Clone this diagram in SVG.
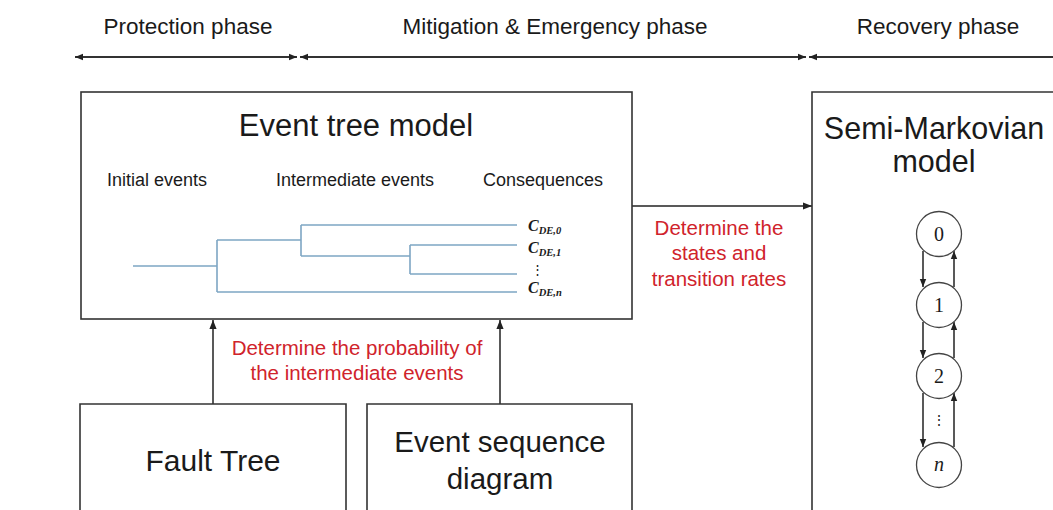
<svg xmlns="http://www.w3.org/2000/svg" width="1053" height="510" viewBox="0 0 1053 510">
<defs>
<marker id="ah" viewBox="0 0 10 10" refX="10" refY="5" markerWidth="9" markerHeight="9" markerUnits="userSpaceOnUse" orient="auto-start-reverse">
<path d="M0,1 L10,5 L0,9 z" fill="#222"/>
</marker>
<marker id="ahs" viewBox="0 0 10 10" refX="10" refY="5" markerWidth="8" markerHeight="8" markerUnits="userSpaceOnUse" orient="auto-start-reverse">
<path d="M0,1 L10,5 L0,9 z" fill="#222"/>
</marker>
</defs>
<style>
.box{fill:#fff;stroke:#333;stroke-width:1.6}
.t{font-family:"Liberation Sans",Arial,sans-serif;fill:#1a1a1a;text-anchor:middle}
.red{font-family:"Liberation Sans",Arial,sans-serif;fill:#d0232b;text-anchor:middle;font-size:20.5px}
.conn{stroke:#222;stroke-width:1.5;fill:none}
.phase{stroke:#333;stroke-width:2;fill:none}
.tree{stroke:#7ea6c4;stroke-width:1.6;fill:none}
.math{font-family:"Liberation Serif","Times New Roman",serif;fill:#1a1a1a}
.circ{fill:#fff;stroke:#444;stroke-width:1.3}
</style>
<rect width="1053" height="510" fill="#fff"/>

<g id="phases">
<text class="t" x="188" y="34" font-size="22.5">Protection phase</text>
<text class="t" x="555" y="34" font-size="22.5">Mitigation &amp; Emergency phase</text>
<text class="t" x="938" y="34" font-size="22.5">Recovery phase</text>
</g>

<g id="connectors">
<line class="phase" x1="75" y1="57" x2="297" y2="57" marker-start="url(#ahs)" marker-end="url(#ahs)"/>
<line class="phase" x1="300" y1="57" x2="806" y2="57" marker-start="url(#ahs)" marker-end="url(#ahs)"/>
<line class="phase" x1="809" y1="57" x2="1053" y2="57" marker-start="url(#ahs)"/>
<line class="conn" x1="213" y1="404" x2="213" y2="320" marker-end="url(#ah)"/>
<line class="conn" x1="500" y1="404" x2="500" y2="320" marker-end="url(#ah)"/>
<line class="conn" x1="632" y1="206" x2="812" y2="206" marker-end="url(#ah)"/>
<text class="red" x="357" y="355">Determine the probability of</text>
<text class="red" x="357" y="380">the intermediate events</text>
<text class="red" x="719" y="235">Determine the</text>
<text class="red" x="719" y="260">states and</text>
<text class="red" x="719" y="286">transition rates</text>
</g>

<g id="event-tree">
<rect class="box" x="81" y="92" width="551" height="227"/>
<text class="t" x="356" y="136" font-size="31">Event tree model</text>
<text class="t" x="157" y="186" font-size="18">Initial events</text>
<text class="t" x="355" y="186" font-size="18">Intermediate events</text>
<text class="t" x="543" y="186" font-size="18">Consequences</text>
<path class="tree" d="M133,266 H217 M217,240 V292 M217,240 H301 M301,225 V256 M301,225 H517 M301,256 H410 M410,245 V274 M410,245 H517 M410,274 H517 M217,292 H517"/>
<text class="math" x="528" y="231" font-size="16" font-style="italic" font-weight="bold">C<tspan font-size="10.5" dy="3">DE,0</tspan></text>
<text class="math" x="528" y="253" font-size="16" font-style="italic" font-weight="bold">C<tspan font-size="10.5" dy="3">DE,1</tspan></text>
<text class="math" x="537" y="274" font-size="13" text-anchor="middle">⋮</text>
<text class="math" x="528" y="293" font-size="16" font-style="italic" font-weight="bold">C<tspan font-size="10.5" dy="3">DE,n</tspan></text>
</g>

<g id="semi-markov">
<path class="box" d="M1055,92 H812 V512"/>
<text class="t" x="934" y="139" font-size="30.5">Semi-Markovian</text>
<text class="t" x="934" y="172" font-size="30.5">model</text>
<g id="markov-links">
<line class="conn" x1="923" y1="251" x2="923" y2="287" marker-end="url(#ahs)"/>
<line class="conn" x1="954" y1="287" x2="954" y2="251" marker-end="url(#ahs)"/>
<line class="conn" x1="923" y1="322" x2="923" y2="358" marker-end="url(#ahs)"/>
<line class="conn" x1="954" y1="358" x2="954" y2="322" marker-end="url(#ahs)"/>
<line class="conn" x1="923" y1="393" x2="923" y2="447" marker-end="url(#ahs)"/>
<line class="conn" x1="954" y1="447" x2="954" y2="393" marker-end="url(#ahs)"/>
</g>
<g id="state-0"><circle class="circ" cx="939" cy="234" r="22.5"/><text class="math" x="939" y="241" font-size="20" text-anchor="middle">0</text></g>
<g id="state-1"><circle class="circ" cx="939" cy="305" r="22.5"/><text class="math" x="939" y="312" font-size="20" text-anchor="middle">1</text></g>
<g id="state-2"><circle class="circ" cx="939" cy="376" r="22.5"/><text class="math" x="939" y="383" font-size="20" text-anchor="middle">2</text></g>
<text class="math" x="939" y="425" font-size="14" text-anchor="middle">⋮</text>
<g id="state-n"><circle class="circ" cx="939" cy="465" r="22.5"/><text class="math" x="939" y="471" font-size="20" font-style="italic" text-anchor="middle">n</text></g>
</g>

<g id="fault-tree">
<path class="box" d="M80,512 V404 H346 V512"/>
<text class="t" x="213" y="471" font-size="30">Fault Tree</text>
</g>

<g id="event-sequence">
<path class="box" d="M367,512 V404 H632 V512"/>
<text class="t" x="500" y="452" font-size="29.5">Event sequence</text>
<text class="t" x="500" y="489" font-size="29.5">diagram</text>
</g>
</svg>
